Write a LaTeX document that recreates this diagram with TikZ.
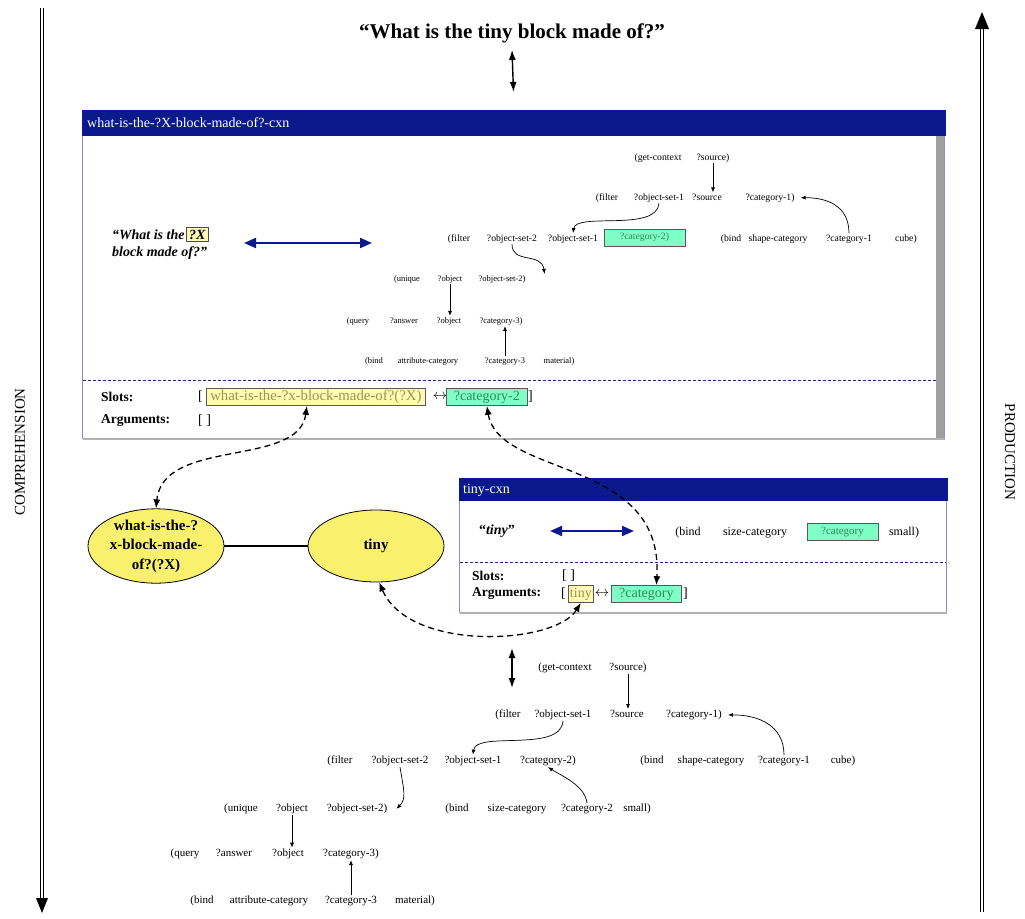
\documentclass[tikz,border=0pt]{standalone}
\usepackage{fontspec}
\setmainfont{Liberation Serif}
\usetikzlibrary{arrows.meta,calc,shapes.geometric}

\definecolor{hdrblue}{HTML}{0A1A8C}
\definecolor{boxedge}{HTML}{8C8CD8}
\definecolor{sepblue}{HTML}{2020A8}
\definecolor{slotyellow}{HTML}{FFFBB5}
\definecolor{slotytext}{HTML}{9A9650}
\definecolor{slotgreen}{HTML}{7FFFC6}
\definecolor{slotgtext}{HTML}{2E8B57}
\definecolor{unitfill}{HTML}{F9F16E}

\tikzset{
  netA/.style={anchor=base, inner sep=1pt, font=\fontsize{9.7}{11}\selectfont},
  netB/.style={anchor=base, inner sep=1pt, font=\fontsize{8.5}{10}\selectfont},
  netC/.style={anchor=base, inner sep=1pt, font=\fontsize{11}{13}\selectfont},
  netD/.style={anchor=base, inner sep=1pt, font=\fontsize{12}{14}\selectfont},
  flow/.style={-{Latex[length=5pt,width=4pt]}, line width=0.7pt},
  link/.style={{Latex[length=9pt,width=7pt]}-{Latex[length=9pt,width=7pt]}, dash pattern=on 6pt off 4pt, line width=1.3pt},
  biarrow/.style={{Latex[length=10pt,width=7pt]}-{Latex[length=10pt,width=7pt]}, line width=1.4pt},
  bluearrow/.style={{Triangle[length=12pt,width=10pt]}-{Triangle[length=12pt,width=10pt]}, line width=2pt, draw=hdrblue, fill=hdrblue},
  cxnbox/.style={draw=boxedge, line width=1pt, fill=white, anchor=north west, inner sep=0pt},
  hdrtext/.style={anchor=west, text=white, inner sep=0pt, font=\fontsize{14}{16}\selectfont},
  sep/.style={draw=sepblue, dash pattern=on 3pt off 2pt, line width=0.7pt},
  lab/.style={anchor=west, inner sep=0pt, font=\bfseries\fontsize{13.5}{16}\selectfont},
  brk/.style={anchor=west, inner sep=0pt, font=\fontsize{14}{16}\selectfont},
  yslot/.style={draw=black!65, fill=slotyellow, text=slotytext, inner sep=1pt, minimum height=17pt, line width=0.7pt, font=\fontsize{14}{16}\selectfont},
  gslot/.style={draw=black!65, fill=slotgreen, text=slotgtext, inner sep=1pt, minimum height=17pt, line width=0.7pt, font=\fontsize{14}{16}\selectfont},
  unit/.style={ellipse, draw, fill=unitfill, line width=0.8pt, minimum width=136pt, minimum height=72pt, align=center, font=\bfseries\fontsize{15}{19.5}\selectfont, inner sep=0pt},
  sidelabel/.style={font=\fontsize{15}{18}\selectfont, inner sep=0pt},
  phase/.style={double=white, double distance=2.6pt, line width=0.9pt},
}

\begin{document}
\begin{tikzpicture}[x=1pt,y=-1pt]
\useasboundingbox (0,0) rectangle (1025,918);

% ---- processing direction arrows at the sides
\coordinate (compTop) at (42,8);
\coordinate (compEnd) at (42,899);
\coordinate (compTip) at (42,913);
\draw[phase] (compTop) -- (compEnd);
\fill ($(compEnd)+(-6,-1)$) -- ($(compEnd)+(6,-1)$) -- (compTip) -- cycle;
\node[sidelabel, rotate=90] (comp) at (20,452) {COMPREHENSION};

\coordinate (prodBot) at (982,912);
\coordinate (prodEnd) at (982,28);
\coordinate (prodTip) at (982,12);
\draw[phase] (prodBot) -- (prodEnd);
\fill ($(prodEnd)+(-7,1)$) -- ($(prodEnd)+(7,1)$) -- (prodTip) -- cycle;
\node[sidelabel, rotate=-90] (prod) at (1010,452) {PRODUCTION};

% ---- utterance
\node[font=\bfseries\fontsize{21}{24}\selectfont, inner sep=0pt] (utt) at (512,33) {“What is the tiny block made of?”};

% ---- what-is-the-?X-block-made-of?-cxn
\node[cxnbox, minimum width=862pt, minimum height=328pt] (bigbox) at (82,110) {};
\fill[gray!75] ($(bigbox.north east)+(-9,26)$) rectangle ($(bigbox.south east)+(-1,-1)$);
\draw[gray!60, line width=2pt] ($(bigbox.south west)+(1,0)$) -- (bigbox.south east);
\fill[hdrblue] ($(bigbox.north west)+(-0.5,0)$) rectangle ($(bigbox.north east)+(0.5,26)$);
\node[hdrtext] (bighdr) at (87,123) {what-is-the-?X-block-made-of?-cxn};
\draw[sep] ($(bigbox.north west)+(1,270)$) -- ($(bigbox.north east)+(-9,270)$);

\draw[biarrow] ([yshift=-7pt]utt.south) -- ([yshift=18pt]bigbox.north);

% form
\node[anchor=base west, inner sep=0pt, font=\bfseries\itshape\fontsize{14}{16}\selectfont] (f1) at (112,239) {“What is the};
\node[anchor=base west, draw=black!70, fill=slotyellow, line width=0.7pt, inner xsep=3pt, inner ysep=2pt, font=\bfseries\itshape\fontsize{14}{16}\selectfont] (fX) at ([xshift=1pt]f1.base east) {?X};
\node[anchor=base west, inner sep=0pt, font=\bfseries\itshape\fontsize{14}{16}\selectfont] (f2) at (112,256) {block made of?”};
\coordinate (bigL) at (244,243);
\coordinate (bigR) at (372,243);
\draw[bluearrow] (bigL) -- (bigR);

% meaning
\node[netA] (ta1) at (658,160) {(get-context};
\node[netA] (ta2) at (713,160) {?source)};
\node[netA] (tb1) at (607,200) {(filter};
\node[netA] (tb2) at (659,200) {?object-set-1};
\node[netA] (tb3) at (707,200) {?source};
\node[netA] (tb4) at (770,200) {?category-1)};
\node[netA] (tc1) at (459,241) {(filter};
\node[netA] (tc2) at (512,241) {?object-set-2};
\node[netA] (tc3) at (573,241) {?object-set-1};
\node[gslot, font=\fontsize{9.7}{11}\selectfont, minimum width=81pt] (tc4) at (644.5,237.5) {?category-2)};
\node[netA] (tc5) at (731,241) {(bind};
\node[netA] (tc6) at (778,241) {shape-category};
\node[netA] (tc7) at (849,241) {?category-1};
\node[netA] (tc8) at (906,241) {cube)};
\node[netB] (td1) at (407,281) {(unique};
\node[netB] (td2) at (450,281) {?object};
\node[netB] (td3) at (502,281) {?object-set-2)};
\node[netB] (te1) at (358,323) {(query};
\node[netB] (te2) at (404,323) {?answer};
\node[netB] (te3) at (449,323) {?object};
\node[netB] (te4) at (501,323) {?category-3)};
\node[netB] (tf1) at (374,363) {(bind};
\node[netB] (tf2) at (428,363) {attribute-category};
\node[netB] (tf3) at (505,363) {?category-3};
\node[netB] (tf4) at (559,363) {material)};

\draw[flow] (ta2.south) -- (ta2.south |- tb3.north);
\draw[flow] (tb2.south) .. controls ($(tb2.south)+(-2,29)$) and ($(tc3.north)+(3,-21)$) .. (tc3.north);
\draw[flow] (tc7.north) .. controls ($(tc7.north)+(0,-28)$) and ($([xshift=5pt]tb4.east)+(26,0)$) .. ([xshift=5pt]tb4.east);
\draw[flow] (tc2.south) .. controls ($(tc2.south)+(0,20)$) and ($(td3.north east)+(15,-22)$) .. ($(td3.north east)+(18,0)$);
\draw[flow] (td2.south) -- (td2.south |- te3.north);
\draw[flow] (tf3.north) -- (tf3.north |- te4.south);

% slots
\node[lab] (sl1) at (101,397) {Slots:};
\node[lab] (ar1) at (101,421) {Arguments:};
\node[brk] (sb1) at (198,397) {[};
\node[yslot, anchor=west, minimum width=219pt, font=\fontsize{14.8}{16}\selectfont] (slotX) at (206,397) {what-is-the-?x-block-made-of?(?X)};
\node[brk, anchor=center] (sa1) at (440,397) {$\leftrightarrow$};
\node[gslot, anchor=west, minimum width=81pt] (slotC) at (446,397) {?category-2};
\node[brk] (se1) at (528,397) {]};
\node[brk] (ab1) at (198,421) {[ ]};

% ---- units of the analysis
\node[unit] (u1) at (156,546) {what-is-the-?\\x-block-made-\\of?(?X)};
\node[unit] (u2) at (376,546) {tiny};
\draw[line width=1.5pt] (u1) -- (u2);

% ---- tiny-cxn
\node[cxnbox, minimum width=487pt, minimum height=134pt] (tinybox) at (459,478) {};
\draw[gray!60, line width=2pt] ($(tinybox.south west)+(1,0)$) -- (tinybox.south east);
\fill[hdrblue] ($(tinybox.north west)+(-0.5,0)$) rectangle ($(tinybox.north east)+(0.5,23)$);
\node[hdrtext] (tinyhdr) at (463,490) {tiny-cxn};
\draw[sep] ($(tinybox.north west)+(1,84)$) -- ($(tinybox.north east)+(-1,84)$);

\node[inner sep=0pt, font=\bfseries\fontsize{14}{16}\selectfont] (tf) at (497,531) {“\textit{tiny}”};
\coordinate (tinyL) at (550,531);
\coordinate (tinyR) at (634,531);
\draw[bluearrow] (tinyL) -- (tinyR);
\node[netD] (tm1) at (688,535) {(bind};
\node[netD] (tm2) at (755,535) {size-category};
\node[gslot, font=\fontsize{11}{13}\selectfont, minimum width=71pt, text height=8pt, text depth=2.5pt] (tm3) at (842.5,531.5) {?category};
\node[netD] (tm4) at (904,535) {small)};

\node[lab] (sl2) at (472,576) {Slots:};
\node[lab] (ar2) at (472,594) {Arguments:};
\node[brk] (sb2) at (562,576) {[ ]};
\node[brk] (ab2) at (561,594) {[};
\node[yslot, anchor=west, minimum width=25pt] (argT) at (568,594) {tiny};
\node[brk, anchor=center] (aa2) at (602,594) {$\leftrightarrow$};
\node[gslot, anchor=west, minimum width=70pt] (argC) at (611,594) {?category};
\node[brk] (ae2) at (683,594) {]};

% ---- links between slots, arguments and units
\draw[link] ([xshift=-9pt]slotX.south) .. controls ($([xshift=-9pt]slotX.south)+(-8,62)$) and ($(u1.north)+(7,-71)$) .. (u1.north);
\draw[link] (slotC.south) .. controls ($(slotC.south)+(12,72)$) and ($([xshift=10pt]argC.north)+(8,-128)$) .. ([xshift=10pt]argC.north);
\draw[link] (argT.south) .. controls ($(argT.south)+(-26,42)$) and ($(u2.-85)+(30,70)$) .. (u2.-85);

% ---- resulting meaning network
\coordinate (resTop) at (512,648);
\coordinate (resBot) at (512,688);
\draw[biarrow] (resTop) -- (resBot);

\node[netC] (ba1) at (565,670.5) {(get-context};
\node[netC] (ba2) at (628,670.5) {?source)};
\node[netC] (bb1) at (508,717.5) {(filter};
\node[netC] (bb2) at (563,717.5) {?object-set-1};
\node[netC] (bb3) at (627,717.5) {?source};
\node[netC] (bb4) at (694,717.5) {?category-1)};
\node[netC] (bc1) at (340,763.5) {(filter};
\node[netC] (bc2) at (400,763.5) {?object-set-2};
\node[netC] (bc3) at (473,763.5) {?object-set-1};
\node[netC] (bc4) at (548,763.5) {?category-2)};
\node[netC] (bc5) at (652,763.5) {(bind};
\node[netC] (bc6) at (711,763.5) {shape-category};
\node[netC] (bc7) at (784,763.5) {?category-1};
\node[netC] (bc8) at (843,763.5) {cube)};
\node[netC] (bd1) at (241,811.5) {(unique};
\node[netC] (bd2) at (292,811.5) {?object};
\node[netC] (bd3) at (357,811.5) {?object-set-2)};
\node[netC] (bd4) at (457,811.5) {(bind};
\node[netC] (bd5) at (517,811.5) {size-category};
\node[netC] (bd6) at (587,811.5) {?category-2};
\node[netC] (bd7) at (637,811.5) {small)};
\node[netC] (be1) at (185,856.5) {(query};
\node[netC] (be2) at (234,856.5) {?answer};
\node[netC] (be3) at (288,856.5) {?object};
\node[netC] (be4) at (351,856.5) {?category-3)};
\node[netC] (bf1) at (202,903.5) {(bind};
\node[netC] (bf2) at (269,903.5) {attribute-category};
\node[netC] (bf3) at (351,903.5) {?category-3};
\node[netC] (bf4) at (415,903.5) {material)};

\draw[flow] (ba2.south) -- (ba2.south |- bb3.north);
\draw[flow] (bb2.south) .. controls ($(bb2.south)+(-2,32)$) and ($(bc3.north)+(3,-24)$) .. (bc3.north);
\draw[flow] (bc7.north) .. controls ($(bc7.north)+(0,-30)$) and ($([xshift=5pt]bb4.east)+(30,0)$) .. ([xshift=5pt]bb4.east);
\draw[flow] (bc2.south) .. controls ($(bc2.south)+(4,24)$) and ($([xshift=8pt]bd3.east)+(10,-10)$) .. ([xshift=8pt]bd3.east);
\draw[flow] (bd6.north) .. controls ($(bd6.north)+(-2,-18)$) and ($(bc4.south)+(12,8)$) .. (bc4.south);
\draw[flow] (bd2.south) -- (bd2.south |- be3.north);
\draw[flow] (bf3.north) -- (bf3.north |- be4.south);

\end{tikzpicture}
\end{document}
